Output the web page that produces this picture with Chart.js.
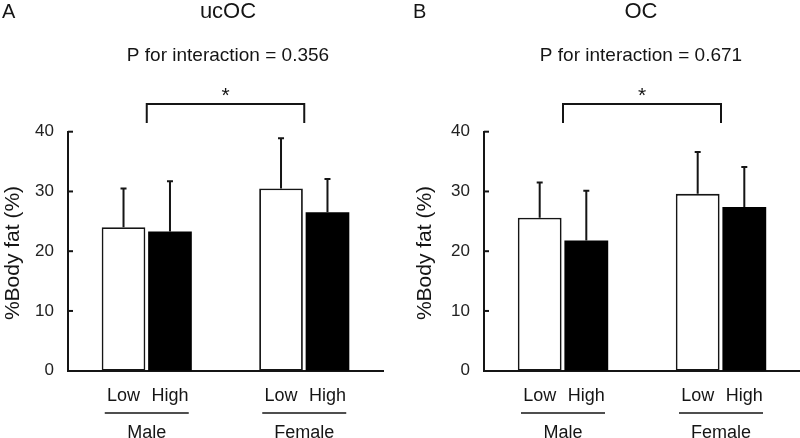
<!DOCTYPE html>
<html>
<head>
<meta charset="utf-8">
<script src="https://cdn.jsdelivr.net/npm/chart.js@4"></script>
<style>
  html, body { margin: 0; padding: 0; background: #fff; }
  #wrap { position: relative; width: 800px; height: 438px; overflow: hidden; }
  canvas { position: absolute; top: 0; }
</style>
</head>
<body>
<div id="wrap">
  <canvas id="chartA" width="400" height="438" style="left:0"></canvas>
  <canvas id="chartB" width="400" height="438" style="left:400px"></canvas>
</div>
<script>
const groups = ['Male', 'Female'];
const levels = ['Low', 'High'];
const yTicks = [0, 10, 20, 30, 40];

// ucOC panel (mean, upper SD)
const ucocLow = [24.0, 30.5];
const ucocLowSd = [6.5, 8.4];
const ucocHigh = [23.3, 26.5];
const ucocHighSd = [8.4, 5.6];

// OC panel
const ocLow = [25.6, 29.6];
const ocLowSd = [5.9, 7.0];
const ocHigh = [21.8, 27.4];
const ocHighSd = [8.3, 6.7];

const FONT = '"Liberation Sans", Arial, sans-serif';
const INK = '#151515';

// draws titles, bracket, error bars, inward ticks and group labels
const decorations = {
  id: 'decorations',
  afterDatasetsDraw(chart, args, opts) {
    const ctx = chart.ctx;
    const x = chart.scales.x;
    const y = chart.scales.y;
    const area = chart.chartArea;
    ctx.save();
    ctx.strokeStyle = INK;
    ctx.fillStyle = INK;
    ctx.lineWidth = 2;

    // error bars (upper only)
    chart.data.datasets.forEach((ds, i) => {
      const meta = chart.getDatasetMeta(i);
      meta.data.forEach((bar, j) => {
        const top = y.getPixelForValue(ds.data[j] + ds.sd[j]);
        ctx.beginPath();
        ctx.moveTo(bar.x, bar.y);
        ctx.lineTo(bar.x, top);
        ctx.moveTo(bar.x - 3, top);
        ctx.lineTo(bar.x + 3, top);
        ctx.stroke();
      });
    });

    // inward tick marks
    yTicks.forEach((v) => {
      if (v === 0) return;
      const py = y.getPixelForValue(v);
      ctx.beginPath();
      ctx.moveTo(area.left, py);
      ctx.lineTo(area.left + 5, py);
      ctx.stroke();
    });

    // titles
    ctx.textAlign = 'center';
    ctx.textBaseline = 'middle';
    ctx.font = '22px ' + FONT;
    ctx.fillText(opts.title, opts.titleX, 12);
    ctx.textAlign = 'left';
    ctx.font = '20px ' + FONT;
    ctx.fillText(opts.letter, opts.letterX, 12);
    ctx.textAlign = 'center';
    ctx.font = '19px ' + FONT;
    ctx.fillText(opts.pText, opts.titleX, 56);

    // significance bracket between group centres
    const x1 = x.getPixelForValue(0);
    const x2 = x.getPixelForValue(1);
    ctx.beginPath();
    ctx.moveTo(x1, 123);
    ctx.lineTo(x1, 104);
    ctx.lineTo(x2, 104);
    ctx.lineTo(x2, 123);
    ctx.stroke();
    ctx.font = '21px ' + FONT;
    ctx.fillText('*', (x1 + x2) / 2, 96);

    // y axis title
    ctx.save();
    ctx.translate(opts.yTitleX, 253);
    ctx.rotate(-Math.PI / 2);
    ctx.font = '21px ' + FONT;
    ctx.fillText('%Body fat (%)', 0, 0);
    ctx.restore();

    // bar labels, underline, group names
    ctx.font = '18px ' + FONT;
    chart.data.datasets.forEach((ds, i) => {
      chart.getDatasetMeta(i).data.forEach((bar) => {
        ctx.fillText(ds.label, bar.x, 396);
      });
    });
    ctx.lineWidth = 1.5;
    groups.forEach((g, j) => {
      const cx = x.getPixelForValue(j);
      ctx.beginPath();
      ctx.moveTo(cx - 42, 413);
      ctx.lineTo(cx + 42, 413);
      ctx.stroke();
      ctx.fillText(g, cx, 433);
    });
    ctx.restore();
  }
};

function makeChart(id, low, lowSd, high, highSd, opts) {
  return new Chart(document.getElementById(id), {
    type: 'bar',
    data: {
      labels: groups,
      datasets: [
        {
          label: levels[0],
          data: low,
          sd: lowSd,
          backgroundColor: '#ffffff',
          borderColor: INK,
          borderWidth: 1.8,
          borderSkipped: false,
        },
        {
          label: levels[1],
          data: high,
          sd: highSd,
          backgroundColor: '#000000',
          borderColor: '#000000',
          borderWidth: 0,
        },
      ],
    },
    options: {
      responsive: false,
      animation: false,
      devicePixelRatio: 1,
      categoryPercentage: 0.59,
      barPercentage: 0.94,
      layout: { padding: { left: 0, top: 131.7, right: opts.padRight, bottom: 67.3 } },
      scales: {
        x: {
          grid: { display: false, drawTicks: false },
          ticks: { display: false },
          border: { display: true, color: INK, width: 2 },
          afterFit: (s) => { s.height = 0; },
        },
        y: {
          min: 0,
          max: 40,
          afterBuildTicks: (s) => { s.ticks = yTicks.map((v) => ({ value: v })); },
          grid: { display: false, drawTicks: false, tickLength: 0 },
          border: { display: true, color: INK, width: 2 },
          ticks: { color: '#222', padding: 14, font: { family: FONT, size: 17 } },
          afterFit: (s) => { s.width = opts.axisWidth; },
        },
      },
      plugins: {
        legend: { display: false },
        tooltip: { enabled: false },
        decorations: opts,
      },
    },
    plugins: [decorations],
  });
}

makeChart('chartA', ucocLow, ucocLowSd, ucocHigh, ucocHighSd, {
  title: 'ucOC', titleX: 228, letter: 'A', letterX: 2,
  pText: 'P for interaction = 0.356', yTitleX: 13,
  axisWidth: 68, padRight: 17,
});
makeChart('chartB', ocLow, ocLowSd, ocHigh, ocHighSd, {
  title: 'OC', titleX: 241, letter: 'B', letterX: 13,
  pText: 'P for interaction = 0.671', yTitleX: 25,
  axisWidth: 84, padRight: 0,
});
</script>
</body>
</html>
